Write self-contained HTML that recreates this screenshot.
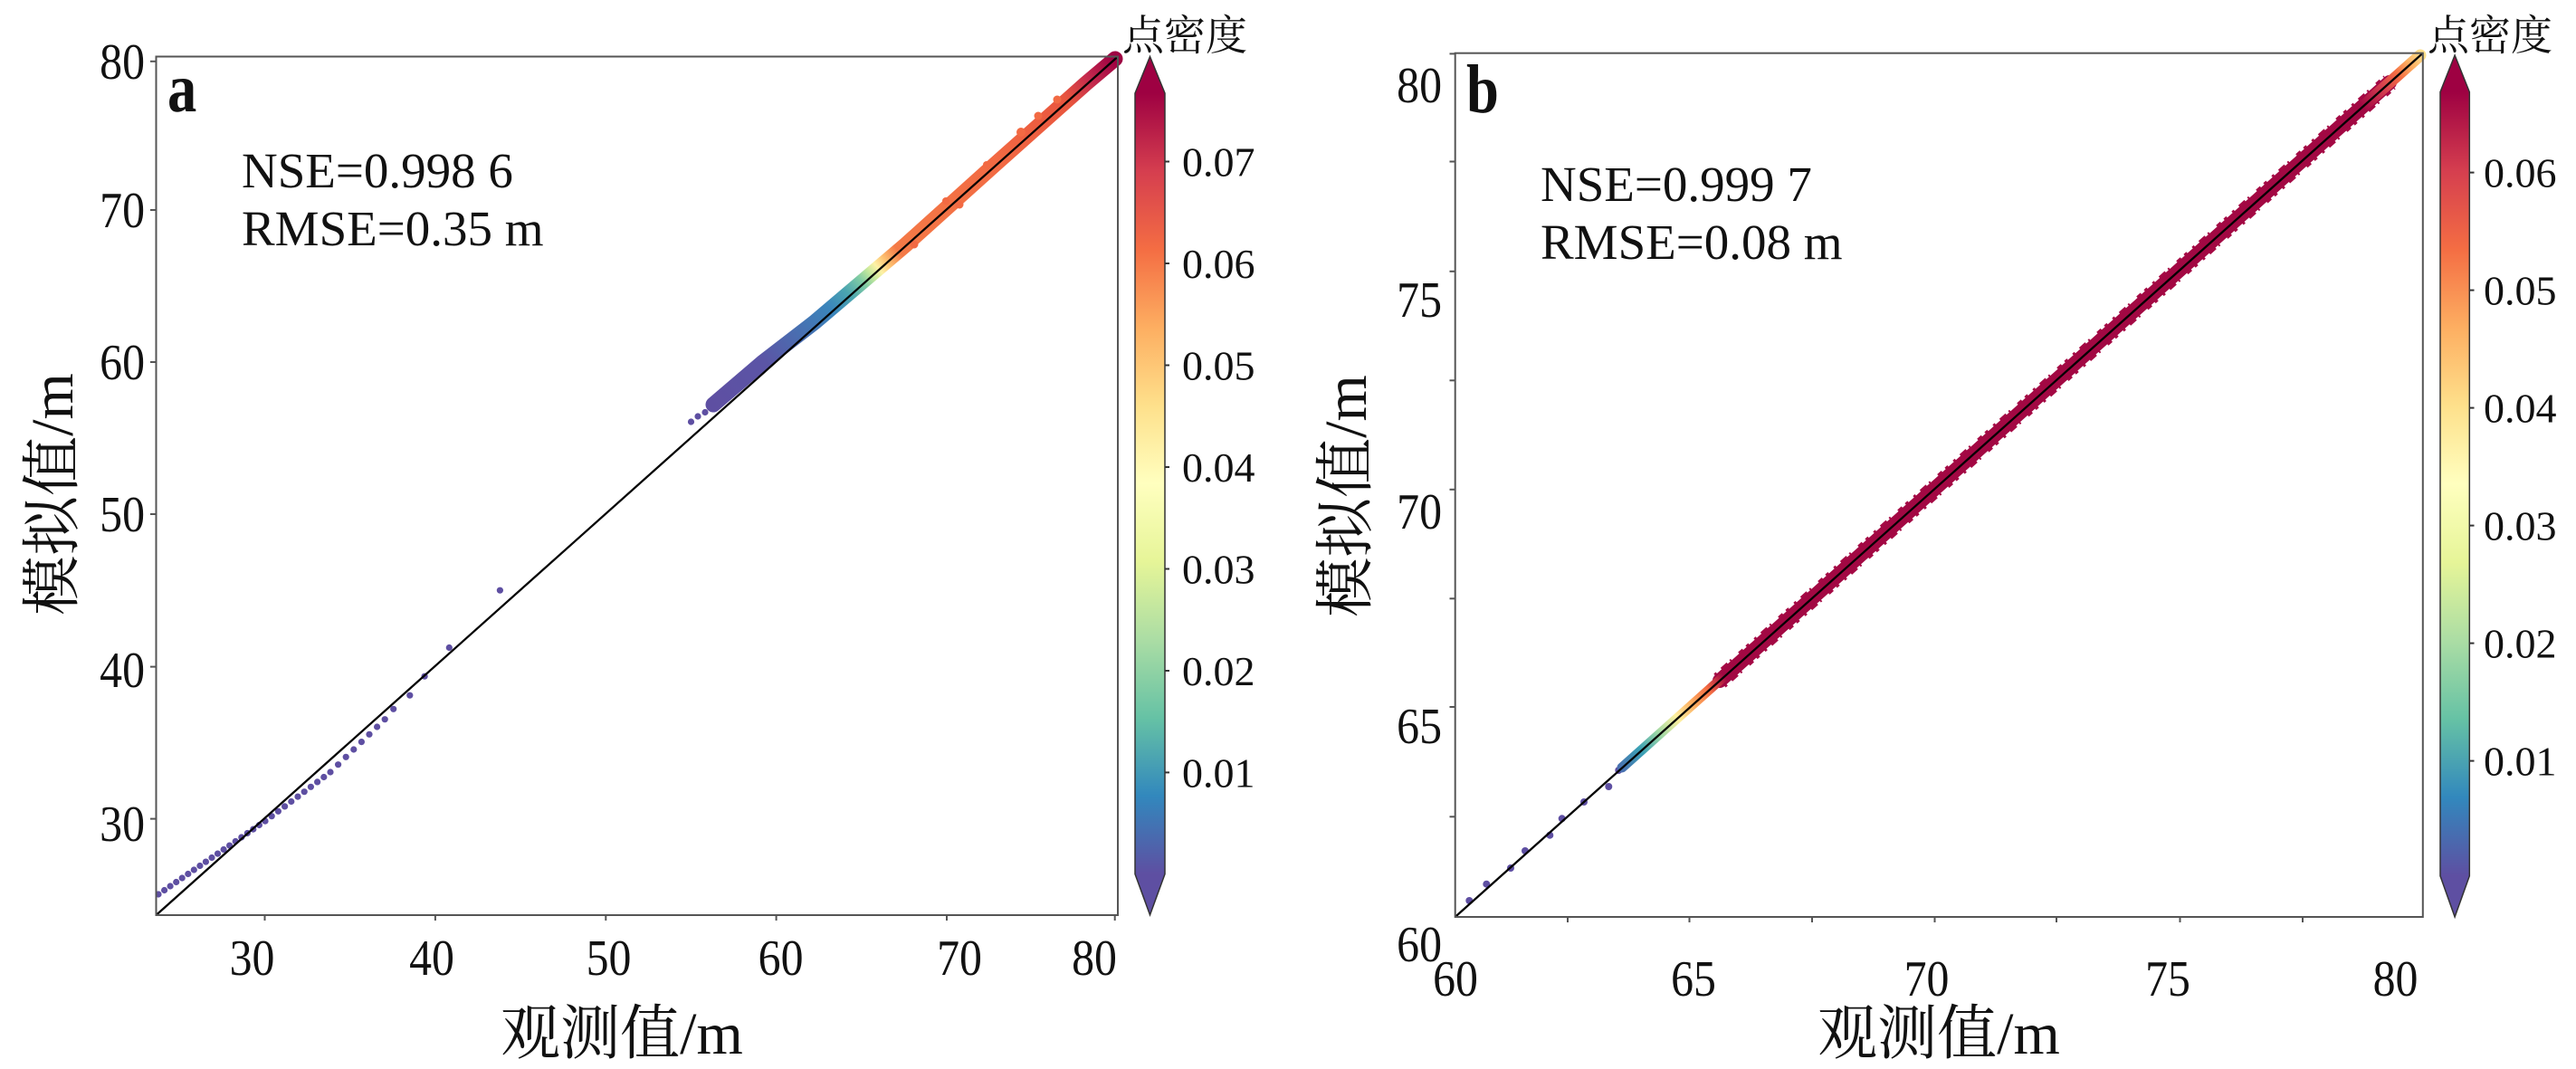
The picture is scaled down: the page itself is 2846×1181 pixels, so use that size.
<!DOCTYPE html>
<html><head><meta charset="utf-8"><style>
html,body{margin:0;padding:0;background:#fff;}
svg{display:block;}
text{font-family:"Liberation Serif","Noto Serif CJK SC",serif;fill:#111;}
</style></head><body>
<svg width="2846" height="1181" viewBox="0 0 2846 1181" xmlns="http://www.w3.org/2000/svg">
<defs>
<linearGradient id="cbA" gradientUnits="userSpaceOnUse" x1="0" y1="965.6" x2="0" y2="103">
<stop offset="0" stop-color="#5e4fa2"/><stop offset="0.1" stop-color="#3288bd"/><stop offset="0.2" stop-color="#66c2a5"/><stop offset="0.3" stop-color="#abdda4"/><stop offset="0.4" stop-color="#e6f598"/><stop offset="0.5" stop-color="#ffffbf"/><stop offset="0.6" stop-color="#fee08b"/><stop offset="0.7" stop-color="#fdae61"/><stop offset="0.8" stop-color="#f46d43"/><stop offset="0.9" stop-color="#d53e4f"/><stop offset="1" stop-color="#9e0142"/>
</linearGradient>
<linearGradient id="cbB" gradientUnits="userSpaceOnUse" x1="0" y1="967.8" x2="0" y2="101.7">
<stop offset="0" stop-color="#5e4fa2"/><stop offset="0.1" stop-color="#3288bd"/><stop offset="0.2" stop-color="#66c2a5"/><stop offset="0.3" stop-color="#abdda4"/><stop offset="0.4" stop-color="#e6f598"/><stop offset="0.5" stop-color="#ffffbf"/><stop offset="0.6" stop-color="#fee08b"/><stop offset="0.7" stop-color="#fdae61"/><stop offset="0.8" stop-color="#f46d43"/><stop offset="0.9" stop-color="#d53e4f"/><stop offset="1" stop-color="#9e0142"/>
</linearGradient>
<linearGradient id="bandA" gradientUnits="userSpaceOnUse" x1="788" y1="448" x2="1232" y2="66">
<stop offset="0" stop-color="#5e4fa2"/><stop offset="0.128" stop-color="#5b55a6"/><stop offset="0.207" stop-color="#4a6db0"/><stop offset="0.286" stop-color="#3a85bb"/><stop offset="0.331" stop-color="#4ba5b0"/><stop offset="0.365" stop-color="#7fcba4"/><stop offset="0.387" stop-color="#c4e89c"/><stop offset="0.405" stop-color="#fdf2a6"/><stop offset="0.426" stop-color="#fdbf6f"/><stop offset="0.455" stop-color="#f47a47"/><stop offset="0.703" stop-color="#f26a43"/><stop offset="0.883" stop-color="#e8553e"/><stop offset="0.939" stop-color="#c42a4d"/><stop offset="1" stop-color="#9e0142"/>
</linearGradient>
<linearGradient id="bandB1" gradientUnits="userSpaceOnUse" x1="1790" y1="850" x2="1905" y2="747">
<stop offset="0" stop-color="#4a6fb0"/><stop offset="0.2" stop-color="#3aa0b5"/><stop offset="0.38" stop-color="#9fd8a4"/><stop offset="0.55" stop-color="#fdf0a0"/><stop offset="0.7" stop-color="#fdae61"/><stop offset="0.85" stop-color="#f46d43"/><stop offset="1" stop-color="#a20843"/>
</linearGradient>
<linearGradient id="bandB2" gradientUnits="userSpaceOnUse" x1="2610" y1="118" x2="2676" y2="60">
<stop offset="0" stop-color="#a20843"/><stop offset="0.35" stop-color="#d53e4f"/><stop offset="0.6" stop-color="#f46d43"/><stop offset="0.8" stop-color="#fdae61"/><stop offset="1" stop-color="#fee08b"/>
</linearGradient>
</defs>

<!-- ================= PANEL A ================= -->
<g fill="#5e4fa2">
<circle cx="175" cy="988" r="3.6"/><circle cx="181.6" cy="983.5" r="3.6"/><circle cx="188.1" cy="979" r="3.6"/><circle cx="194.7" cy="974.5" r="3.6"/><circle cx="201.2" cy="970" r="3.6"/><circle cx="207.8" cy="965.5" r="3.6"/><circle cx="214.3" cy="961" r="3.6"/><circle cx="220.9" cy="956.5" r="3.6"/><circle cx="227.4" cy="952.1" r="3.6"/><circle cx="234" cy="947.5" r="3.6"/><circle cx="240.5" cy="943.1" r="3.6"/><circle cx="247.1" cy="938.5" r="3.6"/><circle cx="253.6" cy="934.1" r="3.6"/><circle cx="260.2" cy="929.5" r="3.6"/><circle cx="266.8" cy="925" r="3.6"/><circle cx="273.3" cy="920.5" r="3.6"/><circle cx="279.8" cy="916.1" r="3.6"/><circle cx="286.4" cy="911.5" r="3.6"/><circle cx="293" cy="907.1" r="3.6"/>
<circle cx="300.2" cy="901.7" r="3.6"/><circle cx="307.4" cy="896.3" r="3.6"/><circle cx="314.6" cy="890.9" r="3.6"/><circle cx="321.8" cy="885.5" r="3.6"/><circle cx="329" cy="880.1" r="3.6"/><circle cx="336.2" cy="874.7" r="3.6"/><circle cx="343.4" cy="869.3" r="3.6"/><circle cx="350.6" cy="863.9" r="3.6"/><circle cx="357.8" cy="858.5" r="3.6"/><circle cx="365" cy="853" r="3.6"/>
<circle cx="373.6" cy="844.7" r="3.6"/><circle cx="382.2" cy="836.3" r="3.6"/><circle cx="390.8" cy="828" r="3.6"/><circle cx="399.4" cy="819.6" r="3.6"/><circle cx="408" cy="811.3" r="3.6"/><circle cx="416.6" cy="803" r="3.6"/><circle cx="425.2" cy="794.7" r="3.6"/>
<circle cx="434.7" cy="783.3" r="3.6"/><circle cx="452.8" cy="768.2" r="3.6"/><circle cx="469.1" cy="747.2" r="3.6"/><circle cx="496.3" cy="715.5" r="3.6"/><circle cx="552.4" cy="652.2" r="3.6"/>
<circle cx="763.5" cy="466" r="3.6"/><circle cx="771" cy="460" r="3.6"/><circle cx="779" cy="455.5" r="3.6"/><circle cx="786" cy="449" r="3.6"/>
</g>
<polyline points="788,447 843,400 900,356 960,305 1000,271 1100,181 1200,92 1232,65" fill="none" stroke="url(#bandA)" stroke-width="17" stroke-linejoin="round" stroke-linecap="round"/>
<g fill="#f26a43">
<circle cx="1128" cy="146" r="5"/><circle cx="1147" cy="128" r="4.5"/><circle cx="1168" cy="110" r="4.5"/><circle cx="1090" cy="182" r="4"/><circle cx="1045" cy="222" r="4"/><circle cx="1010" cy="270" r="4.5"/><circle cx="1060" cy="226" r="4.5"/>
</g>
<line x1="172.5" y1="1011" x2="1235" y2="62.5" stroke="#000" stroke-width="2.3"/>
<rect x="172.5" y="62.5" width="1062.5" height="948.5" fill="none" stroke="#555" stroke-width="2"/>
<g stroke="#555" stroke-width="2">
<line x1="166" y1="67.8" x2="172.5" y2="67.8"/><line x1="166" y1="232" x2="172.5" y2="232"/><line x1="166" y1="400" x2="172.5" y2="400"/><line x1="166" y1="568" x2="172.5" y2="568"/><line x1="166" y1="736.6" x2="172.5" y2="736.6"/><line x1="166" y1="904.6" x2="172.5" y2="904.6"/>
<line x1="292.5" y1="1011" x2="292.5" y2="1017"/><line x1="480.9" y1="1011" x2="480.9" y2="1017"/><line x1="669.3" y1="1011" x2="669.3" y2="1017"/><line x1="857.6" y1="1011" x2="857.6" y2="1017"/><line x1="1046" y1="1011" x2="1046" y2="1017"/><line x1="1231.7" y1="1011" x2="1231.7" y2="1017"/>
</g>
<g font-size="56" text-anchor="end">
<text transform="translate(160,87) scale(0.89,1)">80</text>
<text transform="translate(160,251) scale(0.89,1)">70</text>
<text transform="translate(160,419) scale(0.89,1)">60</text>
<text transform="translate(160,587) scale(0.89,1)">50</text>
<text transform="translate(160,759) scale(0.89,1)">40</text>
<text transform="translate(160,929) scale(0.89,1)">30</text>
</g>
<g font-size="56" text-anchor="middle">
<text transform="translate(278.5,1077) scale(0.89,1)">30</text>
<text transform="translate(477,1077) scale(0.89,1)">40</text>
<text transform="translate(672.5,1077) scale(0.89,1)">50</text>
<text transform="translate(862.6,1077) scale(0.89,1)">60</text>
<text transform="translate(1060,1077) scale(0.89,1)">70</text>
<text transform="translate(1209,1077) scale(0.89,1)">80</text>
</g>
<text transform="translate(185,123) scale(0.85,1)" font-size="76" font-weight="bold">a</text>
<text x="267" y="207" font-size="55">NSE=0.998 6</text>
<text x="267" y="271" font-size="55">RMSE=0.35 m</text>
<text transform="translate(80,546) rotate(-90)" text-anchor="middle" font-size="66">模拟值/m</text>
<text x="687" y="1164" text-anchor="middle" font-size="66">观测值/m</text>
<polygon points="1254,103 1270.5,62.5 1287,103 1287,965.6 1270.5,1010.8 1254,965.6" fill="url(#cbA)" stroke="#333" stroke-width="1.5"/>
<g stroke="#333" stroke-width="2">
<line x1="1287" y1="178.5" x2="1292" y2="178.5"/><line x1="1287" y1="291" x2="1292" y2="291"/><line x1="1287" y1="403.5" x2="1292" y2="403.5"/><line x1="1287" y1="516" x2="1292" y2="516"/><line x1="1287" y1="628.5" x2="1292" y2="628.5"/><line x1="1287" y1="741" x2="1292" y2="741"/><line x1="1287" y1="853.4" x2="1292" y2="853.4"/>
</g>
<g font-size="46">
<text x="1306" y="194.5">0.07</text><text x="1306" y="307">0.06</text><text x="1306" y="419.5">0.05</text><text x="1306" y="532">0.04</text><text x="1306" y="644.5">0.03</text><text x="1306" y="757">0.02</text><text x="1306" y="869.4">0.01</text>
</g>
<text x="1240" y="55" font-size="46">点密度</text>

<!-- ================= PANEL B ================= -->
<g fill="#5e4fa2">
<circle cx="1623.3" cy="995" r="4"/><circle cx="1642.3" cy="976.7" r="4"/><circle cx="1669" cy="959" r="4"/><circle cx="1685" cy="940" r="4"/><circle cx="1712.3" cy="922.7" r="4"/><circle cx="1725.7" cy="904.3" r="4"/><circle cx="1750" cy="886" r="4"/><circle cx="1777.3" cy="869" r="4"/><circle cx="1788.3" cy="851" r="4"/>
</g>
<line x1="1900" y1="752" x2="2640" y2="91" stroke="#a50a45" stroke-width="20" stroke-dasharray="3 7 9 4 2 11 6 5 4 8"/>
<line x1="1900" y1="752" x2="2640" y2="91" stroke="#a20843" stroke-width="16" stroke-linecap="round"/>
<line x1="1792" y1="848" x2="1905" y2="747" stroke="url(#bandB1)" stroke-width="11" stroke-linecap="round"/>
<line x1="2610" y1="118" x2="2674" y2="61" stroke="url(#bandB2)" stroke-width="13" stroke-linecap="round"/>
<line x1="1607.7" y1="1013" x2="2676.8" y2="58.7" stroke="#000" stroke-width="2.3"/>
<rect x="1607.7" y="58.7" width="1069.1" height="954.3" fill="none" stroke="#555" stroke-width="2"/>
<g stroke="#555" stroke-width="2">
<line x1="1601.5" y1="59.4" x2="1607.7" y2="59.4"/><line x1="1601.5" y1="178.5" x2="1607.7" y2="178.5"/><line x1="1601.5" y1="299.8" x2="1607.7" y2="299.8"/><line x1="1601.5" y1="420.3" x2="1607.7" y2="420.3"/><line x1="1601.5" y1="540.8" x2="1607.7" y2="540.8"/><line x1="1601.5" y1="661.3" x2="1607.7" y2="661.3"/><line x1="1601.5" y1="781" x2="1607.7" y2="781"/><line x1="1601.5" y1="902.3" x2="1607.7" y2="902.3"/>
<line x1="1732" y1="1013" x2="1732" y2="1019"/><line x1="1866.5" y1="1013" x2="1866.5" y2="1019"/><line x1="2002" y1="1013" x2="2002" y2="1019"/><line x1="2137.5" y1="1013" x2="2137.5" y2="1019"/><line x1="2272" y1="1013" x2="2272" y2="1019"/><line x1="2408.5" y1="1013" x2="2408.5" y2="1019"/><line x1="2544" y1="1013" x2="2544" y2="1019"/>
</g>
<g font-size="56" text-anchor="end">
<text transform="translate(1593,113) scale(0.89,1)">80</text>
<text transform="translate(1593,350) scale(0.89,1)">75</text>
<text transform="translate(1593,584) scale(0.89,1)">70</text>
<text transform="translate(1593,821) scale(0.89,1)">65</text>
<text transform="translate(1593,1062) scale(0.89,1)">60</text>
</g>
<g font-size="56" text-anchor="middle">
<text transform="translate(1608,1100) scale(0.89,1)">60</text>
<text transform="translate(1871,1100) scale(0.89,1)">65</text>
<text transform="translate(2128.5,1100) scale(0.89,1)">70</text>
<text transform="translate(2395,1100) scale(0.89,1)">75</text>
<text transform="translate(2646.5,1100) scale(0.89,1)">80</text>
</g>
<text transform="translate(1620,124) scale(0.85,1)" font-size="76" font-weight="bold">b</text>
<text x="1702" y="222" font-size="55">NSE=0.999 7</text>
<text x="1702" y="286" font-size="55">RMSE=0.08 m</text>
<text transform="translate(1509,548) rotate(-90)" text-anchor="middle" font-size="66">模拟值/m</text>
<text x="2142" y="1164" text-anchor="middle" font-size="66">观测值/m</text>
<polygon points="2696,101.7 2712.1,61 2728.3,101.7 2728.3,967.8 2712.1,1013 2696,967.8" fill="url(#cbB)" stroke="#333" stroke-width="1.5"/>
<g stroke="#333" stroke-width="2">
<line x1="2728.3" y1="190.6" x2="2733.5" y2="190.6"/><line x1="2728.3" y1="320.6" x2="2733.5" y2="320.6"/><line x1="2728.3" y1="450.6" x2="2733.5" y2="450.6"/><line x1="2728.3" y1="580.6" x2="2733.5" y2="580.6"/><line x1="2728.3" y1="710.6" x2="2733.5" y2="710.6"/><line x1="2728.3" y1="840.6" x2="2733.5" y2="840.6"/>
</g>
<g font-size="46">
<text x="2744" y="206.6">0.06</text><text x="2744" y="336.6">0.05</text><text x="2744" y="466.6">0.04</text><text x="2744" y="596.6">0.03</text><text x="2744" y="726.6">0.02</text><text x="2744" y="856.6">0.01</text>
</g>
<text x="2682" y="55" font-size="46">点密度</text>
</svg>
</body></html>
